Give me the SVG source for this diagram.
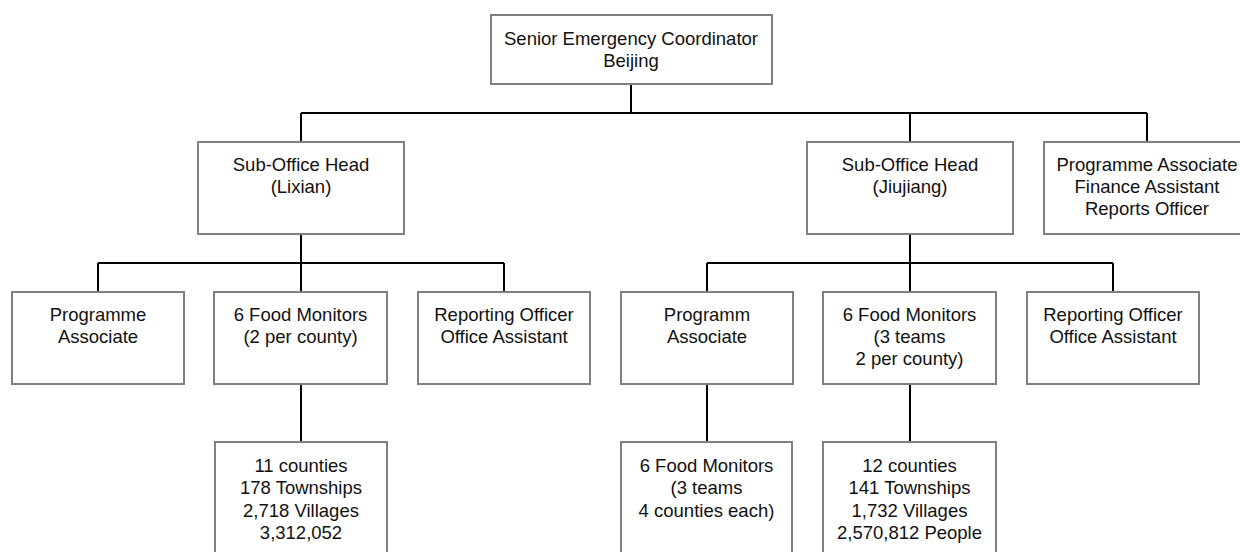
<svg xmlns="http://www.w3.org/2000/svg" width="1240" height="552" viewBox="0 0 1240 552">
<style>
.box{fill:#ffffff;stroke:#808080;stroke-width:2}
.t{font-family:"Liberation Sans",Arial,sans-serif;font-size:18.5px;fill:#111111;text-anchor:middle}
.c{fill:none;stroke:#000000;stroke-width:2}
</style>
<rect width="1240" height="552" fill="#ffffff"/>
<g id="connectors" class="c">
<path d="M631 84V113M301 113H1147M301 113V142M910 113V142M1147 113V142"/>
<path d="M301 234V263M98 263H504M98 263V292M301 263V292M504 263V292"/>
<path d="M910 234V263M707 263H1113M707 263V292M910 263V292M1113 263V292"/>
<path d="M301 384V442M707 384V442M910 384V442"/>
</g>
<g id="n-senior"><rect class="box" x="491" y="15" width="281" height="69"/>
<text class="t" x="631" y="45">Senior Emergency Coordinator</text><text class="t" x="631" y="67">Beijing</text></g>
<g id="n-lixian"><rect class="box" x="198" y="142" width="206" height="92"/>
<text class="t" x="301" y="171">Sub-Office Head</text><text class="t" x="301" y="193">(Lixian)</text></g>
<g id="n-jiujiang"><rect class="box" x="807" y="142" width="206" height="92"/>
<text class="t" x="910" y="171">Sub-Office Head</text><text class="t" x="910" y="193">(Jiujiang)</text></g>
<g id="n-beijing-staff"><rect class="box" x="1044" y="142" width="206" height="92"/>
<text class="t" x="1147" y="171">Programme Associate</text><text class="t" x="1147" y="193">Finance Assistant</text><text class="t" x="1147" y="215">Reports Officer</text></g>
<g id="n-l-pa"><rect class="box" x="12" y="292" width="172" height="92"/>
<text class="t" x="98" y="321">Programme</text><text class="t" x="98" y="343">Associate</text></g>
<g id="n-l-fm"><rect class="box" x="214" y="292" width="173" height="92"/>
<text class="t" x="300.5" y="321">6 Food Monitors</text><text class="t" x="300.5" y="343">(2 per county)</text></g>
<g id="n-l-ro"><rect class="box" x="418" y="292" width="172" height="92"/>
<text class="t" x="504" y="321">Reporting Officer</text><text class="t" x="504" y="343">Office Assistant</text></g>
<g id="n-j-pa"><rect class="box" x="621" y="292" width="172" height="92"/>
<text class="t" x="707" y="321">Programm</text><text class="t" x="707" y="343">Associate</text></g>
<g id="n-j-fm"><rect class="box" x="823" y="292" width="173" height="92"/>
<text class="t" x="909.5" y="321">6 Food Monitors</text><text class="t" x="909.5" y="343">(3 teams</text><text class="t" x="909.5" y="365">2 per county)</text></g>
<g id="n-j-ro"><rect class="box" x="1027" y="292" width="172" height="92"/>
<text class="t" x="1113" y="321">Reporting Officer</text><text class="t" x="1113" y="343">Office Assistant</text></g>
<g id="n-l-area"><rect class="box" x="215" y="442" width="172" height="130"/>
<text class="t" x="301" y="472">11 counties</text><text class="t" x="301" y="494">178 Townships</text><text class="t" x="301" y="516.5">2,718 Villages</text><text class="t" x="301" y="539">3,312,052</text></g>
<g id="n-j-teams"><rect class="box" x="621" y="442" width="171" height="130"/>
<text class="t" x="706.5" y="472">6 Food Monitors</text><text class="t" x="706.5" y="494">(3 teams</text><text class="t" x="706.5" y="516.5">4 counties each)</text></g>
<g id="n-j-area"><rect class="box" x="823" y="442" width="173" height="130"/>
<text class="t" x="909.5" y="472">12 counties</text><text class="t" x="909.5" y="494">141 Townships</text><text class="t" x="909.5" y="516.5">1,732 Villages</text><text class="t" x="909.5" y="539">2,570,812 People</text></g>
</svg>
